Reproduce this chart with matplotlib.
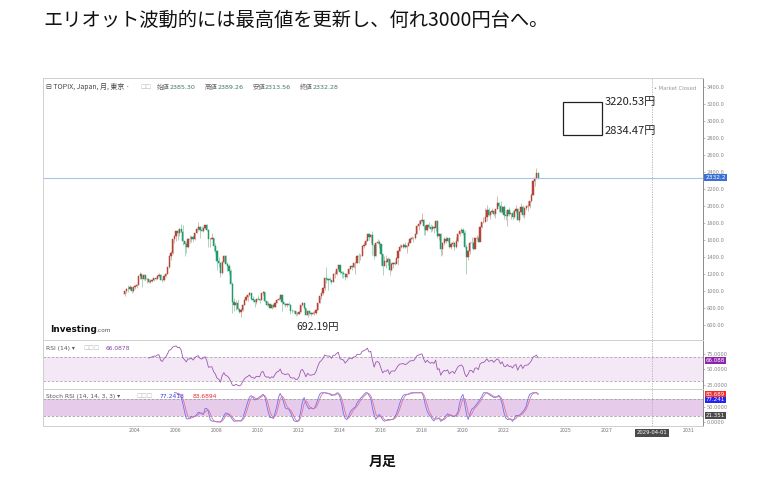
import matplotlib
matplotlib.use("Agg")
import matplotlib.pyplot as plt
import matplotlib.transforms as mtransforms
from matplotlib.patches import Rectangle
import numpy as np
import pandas as pd

plt.rcParams['font.family'] = ['Noto Sans CJK JP', 'DejaVu Sans']

# ---------------- data (TOPIX monthly, Jul 2003 - last month) ----------------
start_month = "2003-07-01"
first_open = 960.0
closes = [
    995, 1022, 1018, 1050, 1004, 1043,                                    # 2003 H2
    1057, 1073, 1179, 1194, 1140, 1189, 1140, 1140, 1102, 1115, 1130, 1149,  # 2004
    1146, 1178, 1182, 1133, 1124, 1177, 1204, 1282, 1412, 1444, 1605, 1650,  # 2005
    1705, 1682, 1728, 1693, 1585, 1555, 1519, 1614, 1610, 1632, 1606, 1681,  # 2006
    1723, 1750, 1713, 1702, 1739, 1774, 1720, 1608, 1616, 1620, 1527, 1475,  # 2007
    1356, 1330, 1212, 1340, 1408, 1320, 1297, 1233, 1087, 867, 831, 860,     # 2008
    794, 757, 773, 837, 897, 930, 950, 979, 909, 894, 870, 907,              # 2009
    901, 894, 979, 987, 880, 841, 849, 805, 830, 810, 860, 899,              # 2010
    910, 951, 869, 851, 838, 849, 841, 770, 761, 764, 728, 729,              # 2011
    755, 835, 854, 805, 719, 770, 736, 731, 737, 742, 781, 860,              # 2012
    940, 976, 1034, 1147, 1135, 1133, 1131, 1106, 1194, 1194, 1258, 1302,    # 2013
    1220, 1211, 1203, 1162, 1201, 1262, 1289, 1277, 1326, 1333, 1410, 1407,  # 2014
    1415, 1523, 1543, 1592, 1673, 1630, 1659, 1537, 1411, 1558, 1580, 1547,  # 2015
    1432, 1297, 1347, 1340, 1379, 1245, 1322, 1329, 1322, 1393, 1469, 1518,  # 2016
    1521, 1535, 1512, 1531, 1568, 1611, 1618, 1617, 1674, 1765, 1792, 1817,  # 2017
    1836, 1768, 1716, 1777, 1747, 1730, 1753, 1735, 1817, 1646, 1667, 1494,  # 2018
    1567, 1607, 1591, 1617, 1512, 1551, 1565, 1511, 1587, 1667, 1699, 1721,  # 2019
    1684, 1511, 1403, 1464, 1563, 1558, 1496, 1618, 1625, 1579, 1755, 1805,  # 2020
    1808, 1864, 1954, 1898, 1922, 1944, 1901, 1960, 2030, 2001, 1928, 1992,  # 2021
    1895, 1886, 1946, 1899, 1912, 1871, 1940, 1963, 1835, 1929, 1985, 1892,  # 2022
    1975, 1994, 2003, 2057, 2131, 2288, 2323, 2385.30, 2332.28,             # 2023
]
highs = [
    1000, 1030, 1065, 1070, 1045, 1050,
    1070, 1085, 1180, 1217, 1192, 1198, 1190, 1155, 1145, 1135, 1135, 1150,
    1165, 1185, 1210, 1195, 1140, 1180, 1210, 1282, 1412, 1470, 1605, 1650,
    1710, 1730, 1735, 1783, 1770, 1590, 1580, 1625, 1660, 1650, 1640, 1681,
    1740, 1816, 1760, 1760, 1740, 1780, 1792, 1730, 1625, 1680, 1625, 1560,
    1480, 1395, 1340, 1345, 1425, 1420, 1340, 1320, 1255, 1100, 920, 895,
    900, 800, 800, 850, 905, 950, 955, 990, 975, 940, 900, 910,
    955, 905, 980, 999, 990, 880, 880, 850, 850, 845, 865, 910,
    925, 960, 955, 870, 860, 860, 870, 845, 790, 780, 770, 755,
    760, 840, 872, 855, 805, 775, 775, 750, 770, 760, 785, 860,
    940, 980, 1050, 1148, 1276, 1150, 1170, 1130, 1200, 1230, 1260, 1305,
    1306, 1230, 1240, 1210, 1205, 1265, 1290, 1295, 1330, 1340, 1420, 1450,
    1430, 1525, 1580, 1610, 1673, 1680, 1675, 1702, 1540, 1565, 1610, 1600,
    1510, 1440, 1410, 1420, 1400, 1380, 1340, 1340, 1350, 1400, 1480, 1555,
    1555, 1560, 1580, 1535, 1580, 1630, 1640, 1630, 1675, 1770, 1830, 1830,
    1911, 1840, 1780, 1780, 1810, 1790, 1770, 1760, 1830, 1830, 1680, 1680,
    1570, 1630, 1640, 1625, 1620, 1575, 1590, 1570, 1630, 1670, 1710, 1740,
    1745, 1720, 1550, 1480, 1590, 1630, 1580, 1625, 1660, 1640, 1760, 1810,
    1865, 1980, 2012, 1990, 1945, 1980, 1950, 1965, 2118, 2040, 2055, 2000,
    2010, 1950, 1960, 1990, 1920, 1955, 1950, 2007, 1980, 1935, 2035, 2010,
    1985, 2000, 2060, 2060, 2150, 2300, 2330, 2440, 2389.26,
]
lows = [
    940, 975, 990, 1010, 980, 990,
    1025, 1030, 1070, 1135, 1050, 1130, 1120, 1095, 1090, 1090, 1100, 1115,
    1130, 1140, 1160, 1125, 1105, 1120, 1160, 1200, 1270, 1360, 1440, 1560,
    1590, 1600, 1640, 1690, 1535, 1407, 1450, 1510, 1560, 1575, 1580, 1600,
    1680, 1710, 1620, 1700, 1690, 1730, 1710, 1520, 1520, 1605, 1470, 1450,
    1250, 1280, 1160, 1200, 1335, 1320, 1240, 1200, 1080, 746, 770, 780,
    780, 740, 700, 770, 830, 885, 880, 945, 895, 870, 810, 850,
    890, 860, 895, 950, 875, 825, 820, 800, 785, 805, 810, 860,
    890, 905, 766, 830, 810, 815, 830, 730, 740, 745, 705, 715,
    725, 755, 820, 790, 715, 692.19, 720, 710, 725, 720, 725, 780,
    860, 900, 955, 1010, 1090, 1010, 1100, 1080, 1105, 1150, 1185, 1245,
    1200, 1155, 1150, 1125, 1150, 1200, 1255, 1250, 1270, 1200, 1330, 1330,
    1365, 1410, 1500, 1535, 1590, 1600, 1560, 1425, 1375, 1410, 1550, 1500,
    1300, 1193, 1290, 1265, 1310, 1192, 1235, 1270, 1305, 1325, 1300, 1470,
    1500, 1500, 1500, 1445, 1525, 1570, 1605, 1580, 1610, 1670, 1720, 1770,
    1810, 1660, 1660, 1700, 1740, 1690, 1700, 1680, 1700, 1620, 1600, 1408,
    1420, 1545, 1560, 1580, 1500, 1490, 1530, 1480, 1510, 1580, 1650, 1680,
    1660, 1500, 1199, 1360, 1440, 1500, 1480, 1490, 1600, 1570, 1590, 1740,
    1800, 1820, 1820, 1880, 1845, 1920, 1880, 1860, 1965, 1930, 1920, 1920,
    1840, 1835, 1758, 1880, 1850, 1840, 1855, 1920, 1830, 1810, 1920, 1870,
    1860, 1950, 1940, 1980, 2040, 2130, 2230, 2310, 2313.56,
]
opens = [first_open] + closes[:-1]   # each month opens at the prior month's close

header_vals = {"始値": "2385.30", "高値": "2389.26", "安値": "2313.56", "終値": "2332.28"}
target_high = 3220.53
target_low = 2834.47
bottom_low = 692.19
year_ticks = [2004, 2006, 2008, 2010, 2012, 2014, 2016, 2018, 2020, 2022, 2025, 2027, 2031]
crosshair_label = "2029-04-01"
crosshair_year = 2029.22
price_ticks = list(range(600, 3401, 200))
rsi_last = 66.0878
k_last, d_last = 77.2413, 83.6894
stoch_cross = 21.351

# ---------------- derived ----------------
o = np.array(opens, float); h = np.array(highs, float)
l = np.array(lows, float); c = np.array(closes, float)
dates = pd.date_range(start_month, periods=len(c), freq="MS")
t = np.asarray(dates.year + (dates.month - 1) / 12.0, float)

# RSI(14) (Wilder) and Stoch RSI (14,14,3,3)
s = pd.Series(c)
d = s.diff()
gain = d.clip(lower=0); loss = -d.clip(upper=0)
ag = gain.ewm(alpha=1/14, adjust=False, min_periods=14).mean()
al = loss.ewm(alpha=1/14, adjust=False, min_periods=14).mean()
rsi = 100 - 100 / (1 + ag / al)
rmin = rsi.rolling(14).min(); rmax = rsi.rolling(14).max()
stoch = (rsi - rmin) / (rmax - rmin) * 100
K = stoch.rolling(3).mean()
D = K.rolling(3).mean()

# ---------------- figure ----------------
W, H = 762, 478
fig = plt.figure(figsize=(W / 100, H / 100), dpi=100)
def fx(x): return x / W
def fy(y): return 1 - y / H

L, R = 43, 703
ax = fig.add_axes([fx(L), fy(340), (R - L) / W, (340 - 78) / H])
ax_r = fig.add_axes([fx(L), fy(389), (R - L) / W, (389 - 340) / H])
ax_s = fig.add_axes([fx(L), fy(425.7), (R - L) / W, (425.7 - 389) / H])

xmin, xmax = 1999.51, 2031.71
for a in (ax, ax_r, ax_s):
    a.set_xlim(xmin, xmax)
    for sp in a.spines.values():
        sp.set_color("#cfcfcf"); sp.set_linewidth(0.7)
    a.spines["right"].set_color("#8a8a8a")
    a.yaxis.tick_right()
    a.tick_params(axis="y", labelsize=4.2, colors="#8a8a8a", length=1.5, width=0.4, pad=1)
    a.tick_params(axis="x", length=0)
    a.axvline(crosshair_year, color="#b0b0b0", lw=0.6, ls=(0, (1.5, 1.5)))

# main candles
up = c >= o
col_up, col_dn = "#b0473a", "#1f9a6a"
cols = np.where(up, col_up, col_dn)
ax.vlines(t, l, h, colors=cols, lw=0.5, alpha=0.55)
body_lo = np.minimum(o, c); body_h = np.maximum(np.abs(c - o), 5)
ax.bar(t, body_h, bottom=body_lo, width=0.06, color=cols, edgecolor=cols, lw=0.35)

ax.set_ylim(424, 3502)
ax.set_yticks(price_ticks)
ax.set_yticklabels([f"{v:.2f}"[:6] for v in price_ticks])
ax.set_xticks([])

last = c[-1]
ax.axhline(last, color="#a9c4ec", lw=0.8)
trans_r = mtransforms.blended_transform_factory(ax.transAxes, ax.transData)
ax.text(1.004, last, f"{last:.2f}"[:6], transform=trans_r, fontsize=4.2, color="white",
        va="center", ha="left", family=["DejaVu Sans"],
        bbox=dict(boxstyle="square,pad=0.2", fc="#3b6fd6", ec="none"))

# target box
ax.add_patch(Rectangle((2024.88, target_low), 1.9, target_high - target_low,
                       fill=False, ec="#222222", lw=0.9, zorder=5))
ax.text(2026.93, target_high, f"{target_high:.2f}円", fontsize=8, color="#222222", va="center", ha="left")
ax.text(2026.93, target_low + 40, f"{target_low:.2f}円", fontsize=8, color="#222222", va="center", ha="left")
imin = int(np.argmin(l))
ax.annotate(f"{bottom_low:.2f}円", xy=(t[imin], l[imin]), xytext=(7, -7), textcoords="offset points",
            fontsize=7.5, color="#222222", ha="center", va="center")

# header text
hy = 0.965
ax.text(0.004, hy, "⊟ TOPIX, Japan, 月, 東京 · ", transform=ax.transAxes, fontsize=5, color="#444444",
        va="center", ha="left")
ax.text(0.148, hy, "☐☐", transform=ax.transAxes, fontsize=4.5, color="#bbbbbb", va="center", ha="left",
        family=["DejaVu Sans"])
hx = 0.173
for k_, v_ in header_vals.items():
    ax.text(hx, hy, k_, transform=ax.transAxes, fontsize=4.6, color="#666666", va="center", ha="left")
    ax.text(hx + 0.019, hy, v_, transform=ax.transAxes, fontsize=4.6, color="#3d7a5e", va="center", ha="left",
            family=["DejaVu Sans"])
    hx += 0.072
ax.text(0.99, hy - 0.005, "• Market Closed", transform=ax.transAxes, fontsize=3.8, color="#9a9a9a",
        va="center", ha="right", family=["DejaVu Sans"])

# Investing.com logo
fig.text(fx(50), fy(330), "Investing", fontsize=6.4, fontweight="bold", color="#111111",
         va="center", ha="left", family=["DejaVu Sans"])
fig.text(fx(96), fy(331), ".com", fontsize=4.2, color="#555555", va="center", ha="left",
         family=["DejaVu Sans"])

# RSI panel
ax_r.axhspan(30, 70, color="#f4e7f6", lw=0)
for lv in (70, 30):
    ax_r.axhline(lv, color="#a8a8a8", lw=0.6, ls=(0, (3, 2)))
ax_r.plot(t, rsi, color="#9b59b0", lw=0.6)
ax_r.set_ylim(17.6, 98.3)
ax_r.set_yticks([25, 50, 75])
ax_r.set_yticklabels(["25.0000", "50.0000", "75.0000"])
ax_r.set_xticks([])
trr = mtransforms.blended_transform_factory(ax_r.transAxes, ax_r.transData)
ax_r.text(1.004, rsi_last - 1.5, f"{rsi_last:.3f}", transform=trr, fontsize=4.0, color="white",
          va="center", ha="left", family=["DejaVu Sans"],
          bbox=dict(boxstyle="square,pad=0.15", fc="#8e24aa", ec="none"))
ax_r.text(0.004, 0.83, "RSI (14) ▾", transform=ax_r.transAxes, fontsize=4.3, color="#555555",
          va="center", ha="left", family=["DejaVu Sans"])
ax_r.text(0.062, 0.83, "☐☐☐", transform=ax_r.transAxes, fontsize=4.3, color="#bbbbbb",
          va="center", ha="left", family=["DejaVu Sans"])
ax_r.text(0.095, 0.83, f"{rsi_last:.4f}", transform=ax_r.transAxes, fontsize=4.3, color="#8e3fa0",
          va="center", ha="left", family=["DejaVu Sans"])

# Stoch RSI panel
ax_s.axhspan(20, 80, color="#e7cbeb", lw=0)
for lv in (80, 20):
    ax_s.axhline(lv, color="#a0a0a0", lw=0.6, ls=(0, (3, 2)))
ax_s.plot(t, K, color="#6a72f0", lw=0.6)
ax_s.plot(t, D, color="#e2709a", lw=0.6)
ax_s.set_ylim(-12.8, 112.8)
ax_s.set_yticks([0, 50])
ax_s.set_yticklabels(["0.0000", "50.0000"])
trs = mtransforms.blended_transform_factory(ax_s.transAxes, ax_s.transData)
for val, fc in ((d_last + 10, "#f22b2b"), (k_last - 2, "#2323f5"), (stoch_cross, "#4a4a4a")):
    lab = {"#f22b2b": f"{d_last:.3f}", "#2323f5": f"{k_last:.3f}", "#4a4a4a": f"{stoch_cross:.3f}"}[fc]
    ax_s.text(1.004, val, lab, transform=trs, fontsize=4.0, color="white", va="center", ha="left",
              family=["DejaVu Sans"], bbox=dict(boxstyle="square,pad=0.15", fc=fc, ec="none"))
ax_s.text(0.004, 0.8, "Stoch RSI (14, 14, 3, 3) ▾", transform=ax_s.transAxes, fontsize=4.3,
          color="#555555", va="center", ha="left", family=["DejaVu Sans"])
ax_s.text(0.142, 0.8, "☐☐☐", transform=ax_s.transAxes, fontsize=4.3, color="#bbbbbb",
          va="center", ha="left", family=["DejaVu Sans"])
ax_s.text(0.176, 0.8, f"{k_last:.4f}", transform=ax_s.transAxes, fontsize=4.3, color="#3a3af0",
          va="center", ha="left", family=["DejaVu Sans"])
ax_s.text(0.226, 0.8, f"{d_last:.4f}", transform=ax_s.transAxes, fontsize=4.3, color="#f02a2a",
          va="center", ha="left", family=["DejaVu Sans"])

ax_s.set_xticks(year_ticks)
ax_s.set_xticklabels([str(y) for y in year_ticks])
ax_s.tick_params(axis="x", labelsize=3.8, colors="#777777", pad=2)
ax_s.text(crosshair_year, -0.13, crosshair_label,
          transform=mtransforms.blended_transform_factory(ax_s.transData, ax_s.transAxes),
          fontsize=3.8, color="white", va="top", ha="center", family=["DejaVu Sans"],
          bbox=dict(boxstyle="square,pad=0.3", fc="#4a4a4a", ec="none"))

# titles
fig.text(fx(43), fy(20), "エリオット波動的には最高値を更新し、何れ3000円台へ。", fontsize=13.9,
         color="#111111", va="center", ha="left")
fig.text(fx(383), fy(462), "月足", fontsize=10, fontweight="bold", color="#111111",
         va="center", ha="center")

fig.savefig("out.png", dpi=100, facecolor="white")
